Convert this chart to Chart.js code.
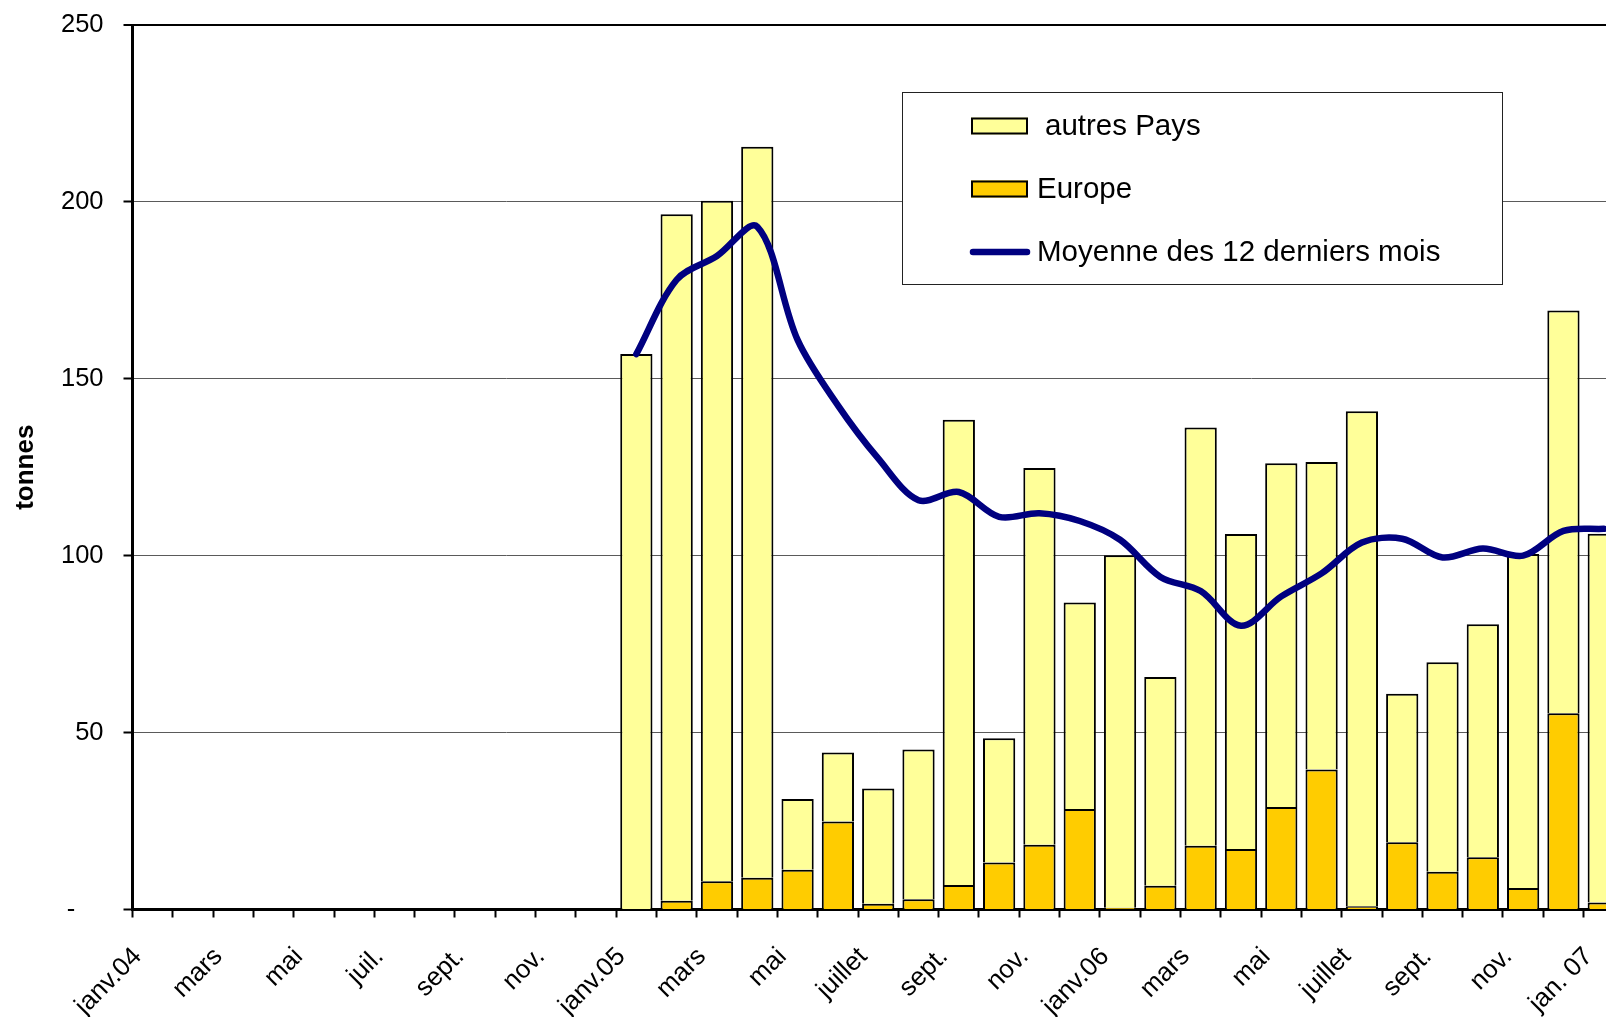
<!DOCTYPE html>
<html><head><meta charset="utf-8">
<script src="https://cdn.jsdelivr.net/npm/chart.js@4.4.1/dist/chart.umd.min.js"></script>
<style>
html,body{margin:0;padding:0;overflow:hidden;background:#fff;width:1606px;height:1017px}
#wrap{width:1606px;height:1017px;overflow:hidden;position:relative}
#box{width:1650px;height:1017px;position:absolute;left:0;top:0}
</style></head><body>
<div id="wrap"><div id="box"><canvas id="c"></canvas></div></div>
<script>
const categories = ['janv.04','févr.','mars','avr.','mai','juin','juil.','août','sept.','oct.','nov.','déc.',
  'janv.05','févr.','mars','avr.','mai','juin','juillet','août','sept.','oct.','nov.','déc.',
  'janv.06','févr.','mars','avr.','mai','juin','juillet','août','sept.','oct.','nov.','déc.','jan. 07'];
const none12 = [null,null,null,null,null,null,null,null,null,null,null,null];
const europe = none12.concat([0,2.5,8,9,11.2,24.9,1.6,2.9,6.9,13.3,18.3,28.4,
  0.5,6.7,18,17.1,29,39.6,0.9,19,10.7,14.8,6.1,55.5,2]);
const autresPays = none12.concat([157,194,192.3,206.6,20,19.5,32.6,42.3,131.5,35.1,106.5,58.4,
  99.6,59,118.2,89,97.1,86.9,139.9,42,59.2,65.8,94.4,113.8,104.2]);
const moyenne12 = none12.concat([157,178,184.7,193,161,142.5,127.5,115.7,118,111,112,109.8,
  104.5,94,90,80.2,88.5,95,103.7,104.8,99.5,102,100,107,107.6]);
const yTicks = [0,50,100,150,200,250];
const yTickLabels = ['-\u2007\u2007','50','100','150','200','250'];
const seriesNames = ['autres Pays','Europe','Moyenne des 12 derniers mois'];

const FONT = "'Liberation Sans', Arial, Helvetica, sans-serif";
Chart.defaults.font.family = FONT;
Chart.defaults.color = '#000';

const legendPlugin = {
  id: 'boxLegend',
  afterDraw(chart) {
    const ctx = chart.ctx;
    const ds = chart.data.datasets;
    ctx.save();
    ctx.fillStyle = '#fff';
    ctx.fillRect(902, 92, 600, 192);
    ctx.strokeStyle = '#222';
    ctx.lineWidth = 1;
    ctx.strokeRect(902.5, 92.5, 600, 192);
    const rows = [
      {ds: ds[2], y: 126, tx: 1045},
      {ds: ds[1], y: 189, tx: 1037},
      {ds: ds[0], y: 252, tx: 1037}
    ];
    ctx.font = '29.5px ' + FONT;
    ctx.textBaseline = 'middle';
    ctx.textAlign = 'left';
    rows.forEach(r => {
      if (r.ds.type === 'line') {
        ctx.strokeStyle = r.ds.borderColor;
        ctx.lineWidth = 6.5;
        ctx.lineCap = 'round';
        ctx.beginPath(); ctx.moveTo(973, r.y); ctx.lineTo(1027, r.y); ctx.stroke();
      } else {
        ctx.fillStyle = r.ds.backgroundColor;
        ctx.fillRect(971, r.y - 8.5, 57, 17);
        ctx.strokeStyle = '#000'; ctx.lineWidth = 2;
        ctx.strokeRect(972, r.y - 7.5, 55, 15);
      }
      ctx.fillStyle = '#000';
      ctx.fillText(r.ds.label, r.tx, r.y + 1);
    });
    ctx.restore();
  }
};

new Chart(document.getElementById('c'), {
  data: {
    labels: categories,
    datasets: [
      {type:'line', label: seriesNames[2], data: moyenne12, borderColor:'#000080', borderWidth:6.5,
       pointRadius:0, tension:0.33, borderCapStyle:'round', borderJoinStyle:'round', order:0, fill:false},
      {type:'bar', label: seriesNames[1], data: europe, backgroundColor:'#FFCC00', borderColor:'#000',
       borderWidth:2, order:1, barPercentage:0.8, categoryPercentage:1},
      {type:'bar', label: seriesNames[0], data: autresPays, backgroundColor:'#FFFF99', borderColor:'#000',
       borderWidth:2, order:2, barPercentage:0.8, categoryPercentage:1}
    ]
  },
  options: {
    responsive: true, maintainAspectRatio: false, animation: false, devicePixelRatio: 1,
    layout: {padding: {left:0, top:25, right:13.4, bottom:0}},
    plugins: {legend:{display:false}, tooltip:{enabled:false}},
    scales: {
      x: {
        stacked: true, offset: true,
        grid: {offset:true, drawOnChartArea:false, drawTicks:true, tickLength:8, tickColor:'#000', tickWidth:2},
        border: {display:true, color:'#000', width:3},
        ticks: {autoSkip:false, minRotation:45, maxRotation:45, padding:24, labelOffset:-15,
          font:{size:26}, color:'#000',
          callback: (v, i) => (i % 2 === 0 ? categories[i] : '')},
        afterFit: s => { s.height = 107.5; }
      },
      y: {
        stacked: true, min: 0, max: 250,
        afterBuildTicks: s => { s.ticks = yTicks.map(v => ({value: v})); },
        grid: {color: c => (c.tick && c.tick.value === 250 ? '#000' : '#5a5a5a'),
               lineWidth: c => (c.tick && c.tick.value === 250 ? 2 : 1),
               tickLength: 9, tickColor:'#000', tickWidth:2},
        border: {display:true, color:'#000', width:3},
        ticks: {padding: 20, font:{size:25.5}, color:'#000',
          callback: (v, i) => yTickLabels[yTicks.indexOf(v)]},
        title: {display:true, text:'tonnes', font:{size:26, weight:'bold'}, color:'#000', padding:{top:10, bottom:0}},
        afterFit: s => { s.width = 132.5; s.paddingTop = 0; s.paddingBottom = 0; }
      }
    }
  },
  plugins: [legendPlugin]
});
</script>
</body></html>
